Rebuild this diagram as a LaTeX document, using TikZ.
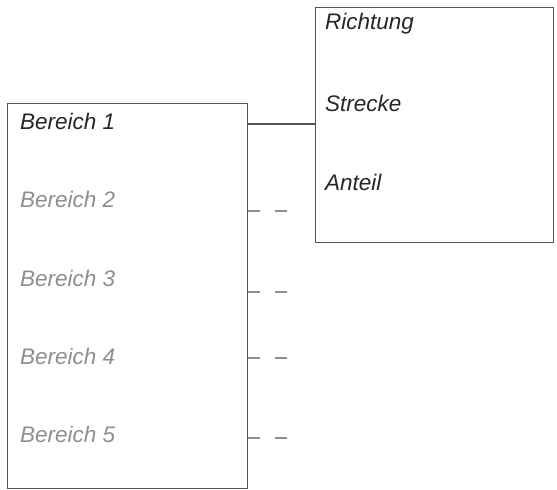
\documentclass[tikz,border=0pt]{standalone}
\usepackage{fontspec}
\setmainfont{Liberation Sans}
\usepackage{tikz}
\usetikzlibrary{positioning}

\definecolor{rahmen}{HTML}{555555}
\definecolor{blass}{HTML}{8E8E8E}

\begin{document}
\begin{tikzpicture}[x=1pt,y=-1pt,
  box/.style={rectangle,draw=rahmen,line width=1.4pt,anchor=north west,inner sep=0pt},
  lbl/.style={anchor=west,inner sep=0pt,font=\fontsize{22.5}{27}\selectfont\itshape},
  aktiv/.style={lbl,text=black!85},
  inaktiv/.style={lbl,text=blass},
  link/.style={draw=rahmen,line width=1.2pt},
  stub/.style={draw=blass,line width=1.4pt,dash pattern=on 12pt off 15pt}
]
\useasboundingbox (0,0) rectangle (557,490);
% the two boxes
\node[box,minimum width=240pt,minimum height=385pt] (bereiche) at (7,103) {};
\node[box,minimum width=238pt,minimum height=235pt] (merkmale) at (315,7) {};
% entries of the left box
\node[aktiv] (b1) at (20,121) {Bereich 1};
\node[inaktiv] (b2) at (20,199) {Bereich 2};
\node[inaktiv] (b3) at (20,278) {Bereich 3};
\node[inaktiv] (b4) at (20,356) {Bereich 4};
\node[inaktiv] (b5) at (20,434) {Bereich 5};
% entries of the right box
\node[aktiv] (r1) at (325,24) {Richtung};
\node[aktiv] (r2) at (325,103) {Strecke};
\node[aktiv] (r3) at (325,182) {Anteil};
% solid link from the first entry
\coordinate (l1) at (bereiche.east |- 0,124);
\draw[link] (l1) -- (merkmale.west |- l1);
% open links of the other entries
\coordinate (e2) at (287,211);
\coordinate (e3) at (287,292);
\coordinate (e4) at (287,358);
\coordinate (e5) at (287,438);
\draw[stub] (bereiche.east |- e2) -- (e2);
\draw[stub] (bereiche.east |- e3) -- (e3);
\draw[stub] (bereiche.east |- e4) -- (e4);
\draw[stub] (bereiche.east |- e5) -- (e5);
\end{tikzpicture}
\end{document}
